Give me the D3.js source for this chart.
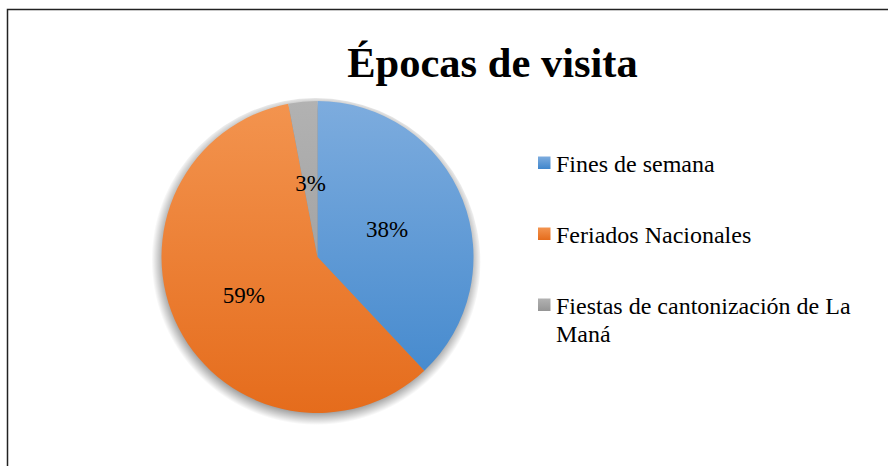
<!DOCTYPE html>
<html>
<head>
<meta charset="utf-8">
<script src="https://cdn.jsdelivr.net/npm/d3@7"></script>
<style>
  html, body { margin: 0; padding: 0; background: #fff; }
  svg { display: block; }
  .serif { font-family: "Liberation Serif"; }
</style>
</head>
<body>
<svg id="chart" width="888" height="466"></svg>
<script>
// Chart data
const title = "Épocas de visita";
const categories = ["Fines de semana", "Feriados Nacionales", "Fiestas de cantonización de La Maná"];
const values = [38, 59, 3];
const legendLines = [["Fines de semana"], ["Feriados Nacionales"], ["Fiestas de cantonización de La", "Maná"]];
const colorsLight = ["#7dacde", "#f3944f", "#b2b2b2"];
const colorsDark = ["#3f86cc", "#e56c1c", "#959595"];

const svg = d3.select("#chart");
const W = 888, H = 466;

svg.append("rect").attr("width", W).attr("height", H).attr("fill", "#fff");
// chart area frame
svg.append("rect")
  .attr("x", 7.5).attr("y", 9.5)
  .attr("width", W + 10).attr("height", H + 10)
  .attr("fill", "none").attr("stroke", "#222").attr("stroke-width", 1.5);

const defs = svg.append("defs");
const cx = 317.5, cy = 257, r = 156;

// vertical gradients for slices, in the pie group's own coordinates
categories.forEach((c, i) => {
  const g = defs.append("linearGradient")
    .attr("id", "grad" + i)
    .attr("gradientUnits", "userSpaceOnUse")
    .attr("x1", 0).attr("y1", -r).attr("x2", 0).attr("y2", r);
  g.append("stop").attr("offset", "0%").attr("stop-color", colorsLight[i]);
  g.append("stop").attr("offset", "100%").attr("stop-color", colorsDark[i]);
});

const legGrad = categories.map((c, i) => {
  const g = defs.append("linearGradient")
    .attr("id", "lgrad" + i).attr("x1", 0).attr("y1", 0).attr("x2", 0).attr("y2", 1);
  g.append("stop").attr("offset", "0%").attr("stop-color", colorsLight[i]);
  g.append("stop").attr("offset", "100%").attr("stop-color", colorsDark[i]);
  return "url(#lgrad" + i + ")";
});

// soft shadow under the pie: radial fade just outside the rim
const sh = defs.append("radialGradient").attr("id", "shadowGrad")
  .attr("gradientUnits", "userSpaceOnUse")
  .attr("cx", 0).attr("cy", 0).attr("r", r + 9);
sh.append("stop").attr("offset", (r - 6) / (r + 9)).attr("stop-color", "#000").attr("stop-opacity", 0.45);
sh.append("stop").attr("offset", 1).attr("stop-color", "#000").attr("stop-opacity", 0);

// Title
svg.append("text")
  .attr("class", "serif")
  .attr("x", 492.5).attr("y", 77)
  .attr("text-anchor", "middle")
  .attr("font-size", 42.5).attr("font-weight", "bold")
  .attr("fill", "#000")
  .text(title);

// Pie
const pie = d3.pie().sort(null).value(d => d)(values);
const arc = d3.arc().innerRadius(0).outerRadius(r);

const pieG = svg.append("g").attr("transform", `translate(${cx},${cy})`);
pieG.append("circle").attr("cx", -1).attr("cy", 3).attr("r", r + 9).attr("fill", "url(#shadowGrad)")
  .attr("transform", "translate(-1,3)");
pieG.selectAll("path.slice")
  .data(pie)
  .join("path")
  .attr("class", "slice")
  .attr("d", arc)
  .attr("fill", (d, i) => `url(#grad${i})`);

// Data labels
const labelRadius = [0.48, 0.53, 0.48];
pieG.selectAll("text.pct")
  .data(pie)
  .join("text")
  .attr("class", "pct serif")
  .attr("transform", (d, i) => {
    const a = (d.startAngle + d.endAngle) / 2;
    const rr = r * labelRadius[i];
    return `translate(${rr * Math.sin(a)},${-rr * Math.cos(a)})`;
  })
  .attr("text-anchor", "middle")
  .attr("dy", "0.35em")
  .attr("font-size", 23)
  .attr("fill", "#000")
  .text(d => d.data + "%");

// Legend
const legend = svg.append("g");
const baseY = [171.5, 242.5, 313.5];
legendLines.forEach((lines, i) => {
  legend.append("rect")
    .attr("x", 538).attr("y", baseY[i] - 15)
    .attr("width", 12.5).attr("height", 12.5)
    .attr("fill", legGrad[i]);
  const t = legend.append("text")
    .attr("class", "serif")
    .attr("x", 556).attr("y", baseY[i])
    .attr("font-size", 24).attr("fill", "#000");
  lines.forEach((ln, j) => {
    t.append("tspan").attr("x", 556).attr("dy", j === 0 ? 0 : 28).text(ln);
  });
});
</script>
</body>
</html>
